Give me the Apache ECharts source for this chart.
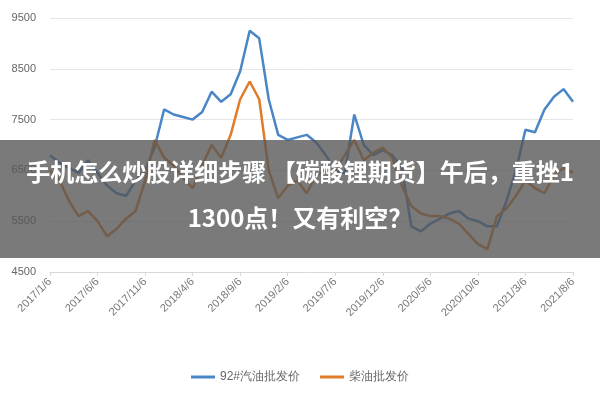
<!DOCTYPE html>
<html><head><meta charset="utf-8">
<script src="https://cdn.jsdelivr.net/npm/echarts@6/dist/echarts.min.js"></script>
<style>html,body{margin:0;padding:0;background:#fff}#c{width:600px;height:400px}</style>
</head><body><div id="c"></div>
<script>
const months = [];
for (let i = 0; i < 56; i++) { const y = 2017 + Math.floor(i / 12), m = i % 12 + 1; months.push(y + '/' + m + '/6'); }
const gasoline = [6800,6650,6550,6450,6700,6450,6200,6050,6000,6300,6500,6950,7700,7600,7550,7500,7650,8050,7850,8000,8450,9250,9100,7900,7200,7100,7150,7200,7050,6800,6500,6450,7600,7000,6800,6900,6800,6550,5400,5300,5450,5550,5650,5700,5550,5500,5400,5400,5900,6500,7300,7250,7700,7950,8100,7850];
const diesel = [6500,6300,5900,5600,5700,5500,5200,5350,5550,5700,6300,7100,6750,6600,6350,6150,6600,7000,6750,7200,7900,8250,7900,6500,5950,6200,6300,6050,6400,6500,6500,6800,7100,6700,6850,6950,6750,6200,5800,5650,5600,5600,5550,5450,5250,5050,4950,5600,5750,6000,6300,6150,6050,6400,6550,6450];
const seriesNames = ['92#汽油批发价','柴油批发价'];
const bannerLines = ['手机怎么炒股详细步骤 【碳酸锂期货】午后，重挫1','1300点！又有利空？'];
const chart = echarts.init(document.getElementById('c'));
chart.setOption({
  animation:false,
  grid:{left:50,right:27,top:18,bottom:128},
  legend:{bottom:12,itemWidth:24,itemHeight:3,icon:'rect',itemGap:20,textStyle:{color:'#666',fontSize:12},data:seriesNames},
  xAxis:{type:'category',data:months,boundaryGap:false,
    axisLine:{lineStyle:{color:'#d9d9d9'}},axisTick:{show:true,interval:4,length:4,lineStyle:{color:'#d9d9d9'}},
    axisLabel:{interval:4,rotate:45,color:'#777',fontSize:11,margin:8}},
  yAxis:{type:'value',min:4500,max:9500,interval:1000,
    axisLabel:{color:'#666',fontSize:11,formatter:v=>String(v),margin:14},splitLine:{lineStyle:{color:'#e6e6e6'}}},
  series:[
    {name:seriesNames[0],type:'line',data:gasoline,showSymbol:false,lineStyle:{width:2.5,color:'#4a86c6'},itemStyle:{color:'#4a86c6'}},
    {name:seriesNames[1],type:'line',data:diesel,showSymbol:false,lineStyle:{width:2.5,color:'#e07b2a'},itemStyle:{color:'#e07b2a'}}
  ],
  graphic:[
    {type:'rect',left:0,top:140,shape:{width:600,height:118},style:{fill:'rgba(85,85,85,0.78)'},z:100},
    {type:'text',left:'center',top:160,style:{text:bannerLines[0],fill:'#fff',font:'bold 24px "Noto Sans CJK SC"'},z:101},
    {type:'text',left:'center',top:206,style:{text:bannerLines[1],fill:'#fff',font:'bold 24px "Noto Sans CJK SC"'},z:101}
  ]
});
</script></body></html>
